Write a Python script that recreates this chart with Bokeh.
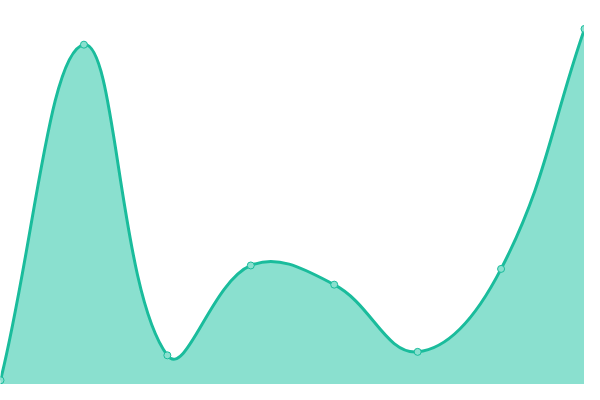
import numpy as np
from bokeh.plotting import figure
from bokeh.embed import file_html
from bokeh.resources import INLINE
from bokeh.models import Range1d, ColumnDataSource

# data
categories = [0, 1, 2, 3, 4, 5, 6, 7]
values = [1.1, 88.5, 7.6, 31.0, 26.0, 8.5, 30.1, 92.6]

W, H = 584, 384
X0, X1 = 0, 7
Y0, Y1 = 0, 100

p = figure(width=W, height=H, output_backend="svg", toolbar_location=None,
           x_range=Range1d(X0, X1), y_range=Range1d(Y0, Y1), min_border=0,
           background_fill_color="white", border_fill_color="white")
p.axis.visible = False
p.grid.visible = False
p.outline_line_color = None

# Chart.js-like cardinal spline (tension 0.4), computed in screen space
sx = W / (X1 - X0)
sy = H / (Y1 - Y0)
px = np.array([(c - X0) * sx for c in categories], float)
py = np.array([(v - Y0) * sy for v in values], float)
n = len(px)
t = 0.4
cpa = []  # control before point
cpb = []  # control after point
for i in range(n):
    pr = (px[max(i - 1, 0)], py[max(i - 1, 0)])
    cu = (px[i], py[i])
    nx = (px[min(i + 1, n - 1)], py[min(i + 1, n - 1)])
    d01 = np.hypot(cu[0] - pr[0], cu[1] - pr[1])
    d12 = np.hypot(nx[0] - cu[0], nx[1] - cu[1])
    s = d01 + d12
    fa = t * d01 / s if s else 0
    fb = t * d12 / s if s else 0
    cpa.append((cu[0] - fa * (nx[0] - pr[0]), cu[1] - fa * (nx[1] - pr[1])))
    cpb.append((cu[0] + fb * (nx[0] - pr[0]), cu[1] + fb * (nx[1] - pr[1])))

def to_data(x, y):
    return x / sx + X0, y / sy + Y0

bx0, by0, bx1, by1, bcx0, bcy0, bcx1, bcy1 = ([] for _ in range(8))
curve_x, curve_y = [], []
tt = np.linspace(0, 1, 40)
for i in range(n - 1):
    P0 = np.array([px[i], py[i]])
    C0 = np.array(cpb[i])
    C1 = np.array(cpa[i + 1])
    P1 = np.array([px[i + 1], py[i + 1]])
    for arr, pt in ((bx0, P0[0]), (by0, P0[1]), (bx1, P1[0]), (by1, P1[1]),
                    (bcx0, C0[0]), (bcy0, C0[1]), (bcx1, C1[0]), (bcy1, C1[1])):
        arr.append(pt)
    seg = ((1 - tt)[:, None] ** 3 * P0 + 3 * ((1 - tt) ** 2 * tt)[:, None] * C0
           + 3 * ((1 - tt) * tt ** 2)[:, None] * C1 + (tt ** 3)[:, None] * P1)
    curve_x.extend(seg[:, 0])
    curve_y.extend(seg[:, 1])

cx = [x / sx + X0 for x in curve_x]
cy = [y / sy + Y0 for y in curve_y]

fill_x = [cx[0]] + cx + [cx[-1]]
fill_y = [Y0] + cy + [Y0]
p.patch(fill_x, fill_y, fill_color="#8ae0cf", line_color=None)

bez = ColumnDataSource(dict(
    x0=[v / sx + X0 for v in bx0], y0=[v / sy + Y0 for v in by0],
    x1=[v / sx + X0 for v in bx1], y1=[v / sy + Y0 for v in by1],
    cx0=[v / sx + X0 for v in bcx0], cy0=[v / sy + Y0 for v in bcy0],
    cx1=[v / sx + X0 for v in bcx1], cy1=[v / sy + Y0 for v in bcy1]))
p.bezier(x0="x0", y0="y0", x1="x1", y1="y1", cx0="cx0", cy0="cy0",
         cx1="cx1", cy1="cy1", source=bez, line_color="#1abc9c", line_width=3)

p.scatter(categories, values, size=7, fill_color="#8ae0cf",
          line_color="#1abc9c", line_width=1)

open("out.html", "w").write(file_html(p, INLINE))
